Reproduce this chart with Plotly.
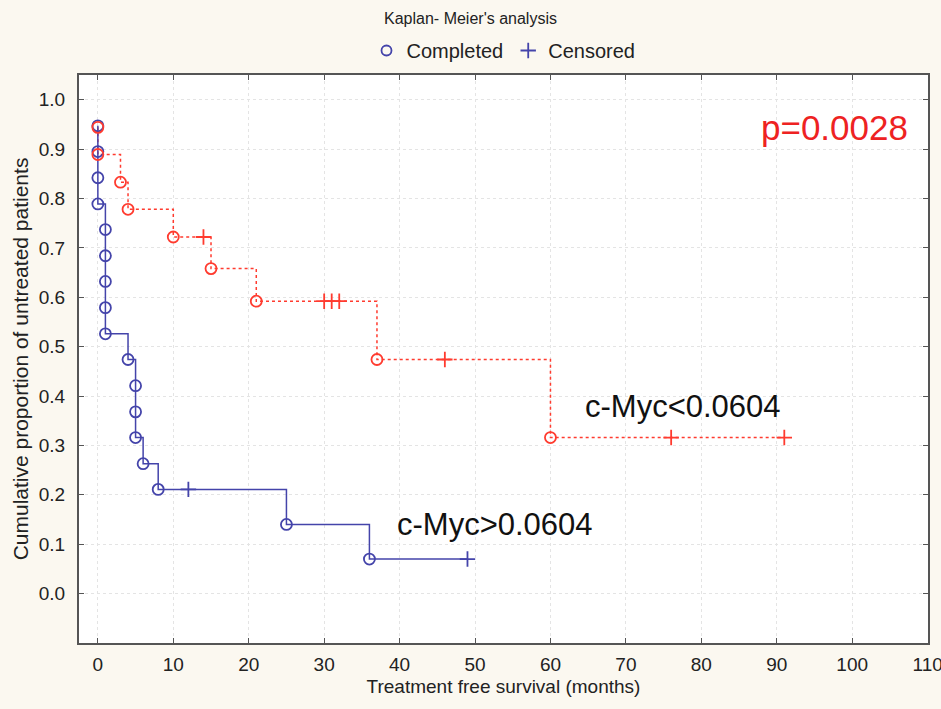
import plotly.graph_objects as go

# c-Myc>0.0604 (blue)
blue_event_t = [0, 0, 0, 0, 1, 1, 1, 1, 1, 4, 5, 5, 5, 6, 8, 25, 36]
blue_event_s = [0.947, 0.895, 0.842, 0.789, 0.737, 0.684, 0.632, 0.579, 0.526,
                0.474, 0.421, 0.368, 0.316, 0.263, 0.211, 0.140, 0.070]
blue_cens_t = [12, 49]
blue_cens_s = [0.211, 0.070]

# c-Myc<0.0604 (red)
red_event_t = [0, 0, 3, 4, 10, 15, 21, 37, 60]
red_event_s = [0.944, 0.889, 0.833, 0.778, 0.722, 0.658, 0.592, 0.474, 0.316]
red_cens_t = [14, 30, 31, 32, 46, 76, 91]
red_cens_s = [0.722, 0.592, 0.592, 0.592, 0.474, 0.316, 0.316]

x_ticks = [0, 10, 20, 30, 40, 50, 60, 70, 80, 90, 100, 110]
y_ticks = [0.0, 0.1, 0.2, 0.3, 0.4, 0.5, 0.6, 0.7, 0.8, 0.9, 1.0]

BLUE = "#4444aa"
RED = "#ff3b2f"
FONT = "Liberation Sans, Arial, sans-serif"


def step_points(et, es, ct, cs):
    pts = sorted([(t, s, 0) for t, s in zip(et, es)] + [(t, s, 1) for t, s in zip(ct, cs)],
                 key=lambda p: (p[0], -p[1]))
    return [p[0] for p in pts], [p[1] for p in pts]


fig = go.Figure()

bx, by = step_points(blue_event_t, blue_event_s, blue_cens_t, blue_cens_s)
rx, ry = step_points(red_event_t, red_event_s, red_cens_t, red_cens_s)

fig.add_trace(go.Scatter(x=rx, y=ry, mode="lines", line=dict(color=RED, width=1.5, dash="dot", shape="hv"),
                         showlegend=False, hoverinfo="skip"))
fig.add_trace(go.Scatter(x=bx, y=by, mode="lines", line=dict(color=BLUE, width=1.5, shape="hv"),
                         showlegend=False, hoverinfo="skip"))

MS = 11
fig.add_trace(go.Scatter(x=blue_event_t, y=blue_event_s, mode="markers",
                         marker=dict(symbol="circle-open", size=MS, color=BLUE, line=dict(width=1.8, color=BLUE)),
                         showlegend=False))
fig.add_trace(go.Scatter(x=blue_cens_t, y=blue_cens_s, mode="markers",
                         marker=dict(symbol="cross-thin", size=MS, color=BLUE, line=dict(width=1.8, color=BLUE)),
                         showlegend=False))
fig.add_trace(go.Scatter(x=red_event_t, y=red_event_s, mode="markers",
                         marker=dict(symbol="circle-open", size=MS, color=RED, line=dict(width=1.8, color=RED)),
                         showlegend=False))
fig.add_trace(go.Scatter(x=red_cens_t, y=red_cens_s, mode="markers",
                         marker=dict(symbol="cross-thin", size=MS, color=RED, line=dict(width=1.8, color=RED)),
                         showlegend=False))

# legend entries
fig.add_trace(go.Scatter(x=[None], y=[None], mode="markers", name="Completed",
                         marker=dict(symbol="circle-open", size=10, color=BLUE, line=dict(width=1.8, color=BLUE))))
fig.add_trace(go.Scatter(x=[None], y=[None], mode="markers", name="Censored",
                         marker=dict(symbol="cross-thin", size=11, color=BLUE, line=dict(width=1.8, color=BLUE))))

fig.add_annotation(x=107.7, y=0.943, xref="x", yref="y", text="p=0.0028", showarrow=False,
                   xanchor="right", yanchor="middle", font=dict(size=35, color="#ee2222", family=FONT))
fig.add_annotation(x=77.6, y=0.379, xref="x", yref="y", text="c-Myc<0.0604", showarrow=False,
                   xanchor="center", yanchor="middle", font=dict(size=31, color="#111111", family=FONT))
fig.add_annotation(x=52.7, y=0.14, xref="x", yref="y", text="c-Myc>0.0604", showarrow=False,
                   xanchor="center", yanchor="middle", font=dict(size=31, color="#111111", family=FONT))

axis_common = dict(showline=True, linecolor="#555555", linewidth=2, mirror="ticks", ticks="inside",
                   ticklen=5, tickcolor="#555555", showgrid=True, gridcolor="#e4e4e4", griddash="dot",
                   gridwidth=1, zeroline=False, automargin=False, ticklabeloverflow="allow",
                   tickfont=dict(size=19, color="#222222", family=FONT))

fig.update_xaxes(range=[-2.5, 110.05], tickvals=x_ticks, ticktext=[str(v) for v in x_ticks],
                 ticklabelstandoff=3,
                 title=dict(text="Treatment free survival (months)", font=dict(size=19, color="#222222", family=FONT),
                            standoff=6),
                 **axis_common)
fig.update_yaxes(range=[-0.1, 1.05], tickvals=y_ticks, ticktext=[f"{v:.1f}" for v in y_ticks],
                 ticklabelstandoff=8,
                 title=dict(text="Cumulative proportion of untreated patients",
                            font=dict(size=21, color="#222222", family=FONT), standoff=4),
                 **axis_common)

fig.update_layout(
    width=941, height=709,
    margin=dict(l=79, r=13, t=75, b=66),
    paper_bgcolor="#fbf8f0", plot_bgcolor="#ffffff",
    title=dict(text="Kaplan- Meier's analysis", x=0.5, xanchor="center", y=1 - 18 / 709, yanchor="middle",
               font=dict(size=16, color="#222222", family=FONT)),
    legend=dict(orientation="h", x=0.5, xanchor="center", y=1 - 31 / 709, yref="container", yanchor="top",
                bgcolor="rgba(0,0,0,0)", font=dict(size=20, color="#222222", family=FONT),
                itemwidth=30, tracegroupgap=0),
    showlegend=True,
)

fig.write_html("out.html")
